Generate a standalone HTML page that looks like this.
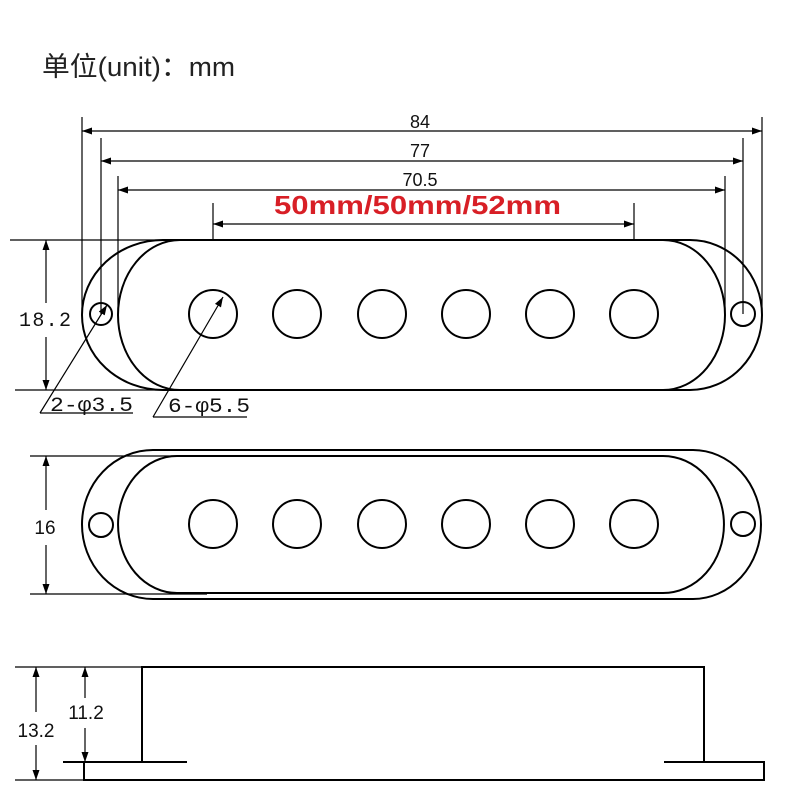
<!DOCTYPE html>
<html><head><meta charset="utf-8"><style>html,body{margin:0;padding:0;background:#fff}svg{display:block}</style></head>
<body>
<svg width="800" height="800" viewBox="0 0 800 800" xmlns="http://www.w3.org/2000/svg">
<defs>
<marker id="a" viewBox="0 0 10 10" refX="10" refY="5" markerWidth="10" markerHeight="10" markerUnits="userSpaceOnUse" orient="auto-start-reverse"><path d="M0,1.5 L10,5 L0,8.5 Z" fill="#000"/></marker>
</defs>
<rect width="800" height="800" fill="#fff"/>
<text x="42" y="76" font-family="Liberation Sans, Noto Sans CJK SC, sans-serif" font-size="27" fill="#222" textLength="193" lengthAdjust="spacingAndGlyphs">单位(unit)：mm</text>

<g stroke="#000" stroke-width="1.2" fill="none">
<line x1="82" y1="117" x2="82" y2="314"/><line x1="762" y1="117" x2="762" y2="314"/>
<line x1="101" y1="138" x2="101" y2="314"/><line x1="743" y1="138" x2="743" y2="314"/>
<line x1="118" y1="176" x2="118" y2="314"/><line x1="725" y1="176" x2="725" y2="314"/>
<line x1="213" y1="203" x2="213" y2="314"/><line x1="634" y1="203" x2="634" y2="314"/>
<line x1="82" y1="131" x2="762" y2="131" marker-start="url(#a)" marker-end="url(#a)"/>
<line x1="101" y1="161" x2="743" y2="161" marker-start="url(#a)" marker-end="url(#a)"/>
<line x1="118" y1="190" x2="725" y2="190" marker-start="url(#a)" marker-end="url(#a)"/>
<line x1="213" y1="224" x2="634" y2="224" marker-start="url(#a)" marker-end="url(#a)"/>
<line x1="10" y1="240" x2="170" y2="240"/><line x1="15" y1="390" x2="170" y2="390"/>
<line x1="46" y1="240" x2="46" y2="303" marker-start="url(#a)"/>
<line x1="46" y1="337" x2="46" y2="390" marker-end="url(#a)"/>
</g>

<g stroke="#000" stroke-width="2" fill="none">
<path d="M163,240 L690,240 A72,75 0 0 1 690,390 L163,390 A81,75 0 0 1 163,240 Z"/>
<path d="M180,240 L663,240 A62,75 0 0 1 663,390 L180,390 A62,75 0 0 1 180,240 Z" fill="#fff"/>
<circle cx="101" cy="314" r="11"/><circle cx="743" cy="314" r="12"/>
<circle cx="213" cy="314" r="24"/><circle cx="297" cy="314" r="24"/><circle cx="382" cy="314" r="24"/>
<circle cx="466" cy="314" r="24"/><circle cx="550" cy="314" r="24"/><circle cx="634" cy="314" r="24"/>
</g>
<g stroke="#000" stroke-width="1.2" fill="none">
<line x1="40" y1="413" x2="133" y2="413"/>
<line x1="40" y1="413" x2="107" y2="305" marker-end="url(#a)"/>
<line x1="153" y1="417" x2="247" y2="417"/>
<line x1="153" y1="417" x2="223" y2="297" marker-end="url(#a)"/>
</g>
<g font-family="Liberation Sans, sans-serif" fill="#111">
<text x="420" y="128" font-size="18" text-anchor="middle">84</text>
<text x="420" y="157" font-size="18" text-anchor="middle">77</text>
<text x="420" y="186" font-size="18" text-anchor="middle">70.5</text>
<text x="274" y="214" font-size="26" font-weight="bold" fill="#d81f26" textLength="287" lengthAdjust="spacingAndGlyphs">50mm/50mm/52mm</text>
<text x="19" y="326" font-size="20" font-family="Liberation Mono, monospace" textLength="52" lengthAdjust="spacing">18.2</text>
<text x="50" y="411" font-size="20" font-family="Liberation Mono, monospace" textLength="83" lengthAdjust="spacingAndGlyphs">2-φ3.5</text>
<text x="168" y="412" font-size="20" font-family="Liberation Mono, monospace" textLength="82" lengthAdjust="spacingAndGlyphs">6-φ5.5</text>
<text x="45" y="534" font-size="19" text-anchor="middle">16</text>
<text x="36" y="737" font-size="19" text-anchor="middle">13.2</text>
<text x="86" y="719" font-size="19" text-anchor="middle">11.2</text>
</g>

<g stroke="#000" stroke-width="1.2" fill="none">
<line x1="30" y1="456" x2="180" y2="456"/><line x1="30" y1="594" x2="207" y2="594"/>
<line x1="46" y1="456" x2="46" y2="510" marker-start="url(#a)"/>
<line x1="46" y1="545" x2="46" y2="594" marker-end="url(#a)"/>
</g>
<g stroke="#000" stroke-width="2" fill="none">
<path d="M153,450 L693,450 A68,74.5 0 0 1 693,599 L153,599 A71,74.5 0 0 1 153,450 Z"/>
<path d="M177,456 L663,456 A61,68.5 0 0 1 663,593 L177,593 A59,68.5 0 0 1 177,456 Z"/>
<circle cx="101" cy="525" r="12"/><circle cx="743" cy="524" r="12"/>
<circle cx="213" cy="524" r="24"/><circle cx="297" cy="524" r="24"/><circle cx="382" cy="524" r="24"/>
<circle cx="466" cy="524" r="24"/><circle cx="550" cy="524" r="24"/><circle cx="634" cy="524" r="24"/>
</g>

<g stroke="#000" stroke-width="1.2" fill="none">
<line x1="15" y1="667" x2="142" y2="667"/><line x1="15" y1="780" x2="84" y2="780"/>
<line x1="36" y1="667" x2="36" y2="712" marker-start="url(#a)"/>
<line x1="36" y1="745" x2="36" y2="780" marker-end="url(#a)"/>
<line x1="85" y1="667" x2="85" y2="698" marker-start="url(#a)"/>
<line x1="85" y1="728" x2="85" y2="762" marker-end="url(#a)"/>
</g>
<g stroke="#000" stroke-width="2" fill="none">
<polyline points="142,762 142,667 704,667 704,762"/>
<line x1="63" y1="762" x2="187" y2="762"/>
<line x1="664" y1="762" x2="704" y2="762"/>
<polyline points="84,762 84,780 764,780 764,762 704,762"/>
</g>
</svg>
</body></html>
